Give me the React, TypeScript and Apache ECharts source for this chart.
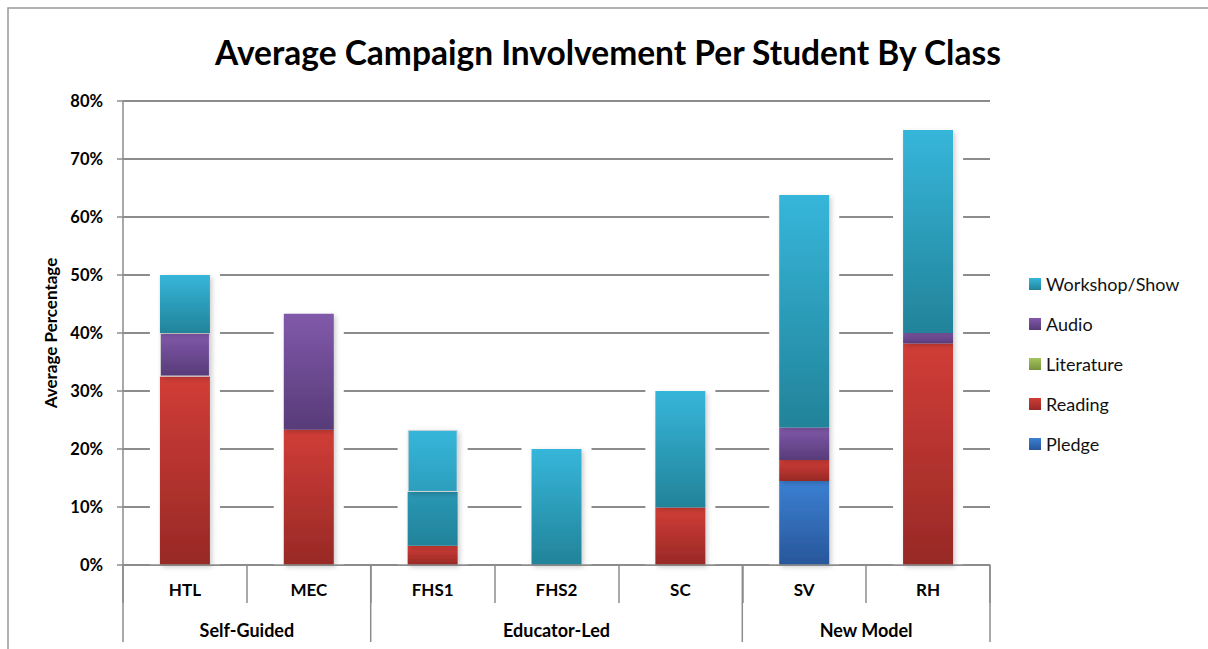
import React, { useEffect, useRef } from "react";
import * as echarts from "echarts";

const categories = ["HTL", "MEC", "FHS1", "FHS2", "SC", "SV", "RH"];
const groups = [
  { name: "Self-Guided", start: 0, end: 2 },
  { name: "Educator-Led", start: 2, end: 5 },
  { name: "New Model", start: 5, end: 7 },
];
const pledge = [0, 0, 0, 0, 0, 14.5, 0];
const reading = [32.5, 23.3, 3.3, 0, 9.9, 3.6, 38.2];
const literature = [0, 0, 0, 0, 0, 0, 0];
const audio = [7.5, 20.0, 0, 0, 0, 5.6, 1.8];
const workshopShow = [10.0, 0, 9.3, 20.0, 20.1, 40.1, 35.0];
const workshopShowUpper = [0, 0, 10.7, 0, 0, 0, 0];
const legendOrder = ["Workshop/Show", "Audio", "Literature", "Reading", "Pledge"];

const FONT = "Lato, 'Open Sans', sans-serif";

const grad = (top: string, bottom: string) =>
  new echarts.graphic.LinearGradient(0, 0, 0, 1, [
    { offset: 0, color: top },
    { offset: 1, color: bottom },
  ]);

const COLORS: Record<string, [string, string]> = {
  Pledge: ["#3b80d2", "#28569a"],
  Reading: ["#d13d37", "#972926"],
  Literature: ["#a3c45e", "#76923c"],
  Audio: ["#8159aa", "#573b78"],
  "Workshop/Show": ["#36b6da", "#228399"],
};

export default function App() {
  const ref = useRef<HTMLDivElement>(null);
  useEffect(() => {
    if (!ref.current) return;
    const chart = echarts.init(ref.current, undefined, { renderer: "svg" });
    const shadow = {
      shadowBlur: 5,
      shadowColor: "rgba(0,0,0,0.2)",
      shadowOffsetX: 2,
      shadowOffsetY: 2,
    };
    const mk = (
      name: string,
      data: number[],
      colors: [string, string] = COLORS[name],
      itemFn?: (v: number, i: number) => any
    ) => ({
      name,
      type: "bar",
      stack: "total",
      xAxisIndex: 0,
      yAxisIndex: 0,
      barWidth: 50,
      z: 3,
      data: data.map((v, i) => {
        if (v === 0) return null;
        const extra = itemFn ? itemFn(v, i) : null;
        return extra ? { value: v, itemStyle: extra } : v;
      }),
      itemStyle: {
        color: grad(colors[0], colors[1]),
        ...shadow,
      },
    });
    const totals = categories.map(
      (_, i) =>
        pledge[i] + reading[i] + literature[i] + audio[i] + workshopShow[i] + workshopShowUpper[i]
    );
    const axisGray = "#8c8c8c";
    chart.setOption({
      animation: false,
      backgroundColor: "#ffffff",
      textStyle: { fontFamily: FONT },
      grid: { left: 123, right: 218, top: 101, bottom: 84 },
      legend: {
        data: legendOrder,
        orient: "vertical",
        left: 1029,
        top: 274,
        padding: 0,
        itemWidth: 12,
        itemHeight: 12,
        itemGap: 20,
        icon: "rect",
        selectedMode: false,
        textStyle: { fontFamily: FONT, fontSize: 18, color: "#111", lineHeight: 20 },
      },
      xAxis: [
        {
          type: "category",
          data: categories,
          boundaryGap: true,
          axisLine: { show: true, lineStyle: { color: axisGray, width: 1.5 } },
          axisTick: { show: true, interval: 0, length: 38, lineStyle: { color: axisGray, width: 1.5 } },
          axisLabel: {
            interval: 0,
            margin: 16,
            fontFamily: FONT,
            fontWeight: "bold",
            fontSize: 17,
            color: "#000",
          },
          splitLine: { show: false },
          z: 4,
        },
        {
          type: "category",
          data: categories,
          boundaryGap: true,
          show: false,
        },
      ],
      yAxis: {
        type: "value",
        min: 0,
        max: 80,
        interval: 10,
        name: "Average Percentage",
        nameLocation: "middle",
        nameGap: 64,
        nameTextStyle: { fontFamily: FONT, fontWeight: "bold", fontSize: 17, color: "#000" },
        axisLine: { show: true, lineStyle: { color: axisGray, width: 1.5 } },
        axisTick: { show: true, length: 6, lineStyle: { color: axisGray, width: 1.5 } },
        axisLabel: {
          formatter: "{value}%",
          margin: 20,
          fontFamily: FONT,
          fontWeight: "bold",
          fontSize: 16.5,
          color: "#000",
        },
        splitLine: { show: true, lineStyle: { color: axisGray, width: 1.8 } },
      },
      series: [
        {
          name: "backdrop",
          type: "bar",
          xAxisIndex: 1,
          yAxisIndex: 0,
          barWidth: 70,
          silent: true,
          z: 1,
          data: totals.map((t) => t + 1.2),
          itemStyle: { color: "#ffffff" },
        },
        mk("Pledge", pledge),
        mk("Reading", reading),
        mk("Literature", literature),
        mk("Audio", audio, COLORS.Audio, (_v, i) =>
          reading[i] > 0 && i === 0
            ? { borderColor: "rgba(215,215,215,0.95)", borderWidth: 1 }
            : null
        ),
        mk("Workshop/Show", workshopShow, COLORS["Workshop/Show"], (_v, i) =>
          workshopShowUpper[i] > 0 ? { color: grad("#2a97b5", "#228399") } : null
        ),
        mk("Workshop/Show", workshopShowUpper, ["#36b6da", "#2c9ebd"], () => ({
          borderColor: "rgba(215,215,215,0.95)",
          borderWidth: 1,
        })),
      ],
    });

    const x0 = chart.convertToPixel({ xAxisIndex: 0 }, 0) as number;
    const x1 = chart.convertToPixel({ xAxisIndex: 0 }, 1) as number;
    const bw = x1 - x0;
    const yBase = chart.convertToPixel({ yAxisIndex: 0 }, 0) as number;
    const boundary = (i: number) => x0 + (i - 0.5) * bw;
    const graphics: any[] = [
      {
        type: "polyline",
        silent: true,
        shape: { points: [[8, 649], [8, 8], [1208, 8]] },
        style: { stroke: "#9a9a9a", lineWidth: 1.5, fill: null },
      },
      {
        type: "text",
        x: 608,
        y: 52,
        style: {
          text: "Average Campaign Involvement Per Student By Class",
          fontFamily: FONT,
          fontWeight: "bold",
          fontSize: 33.5,
          fill: "#000",
          align: "center",
          verticalAlign: "middle",
        },
      },
    ];
    const bounds = new Set<number>();
    groups.forEach((g) => {
      bounds.add(g.start);
      bounds.add(g.end);
      graphics.push({
        type: "text",
        x: (boundary(g.start) + boundary(g.end)) / 2,
        y: yBase + 65,
        style: {
          text: g.name,
          fontFamily: FONT,
          fontWeight: "bold",
          fontSize: 18,
          fill: "#000",
          align: "center",
          verticalAlign: "middle",
        },
      });
    });
    bounds.forEach((b) => {
      graphics.push({
        type: "line",
        silent: true,
        shape: { x1: boundary(b), y1: yBase, x2: boundary(b), y2: yBase + 77 },
        style: { stroke: axisGray, lineWidth: 1.5 },
      });
    });
    chart.setOption({ graphic: graphics });

    return () => chart.dispose();
  }, []);
  return (
    <div
      ref={ref}
      style={{ position: "absolute", left: 0, top: 0, width: 1208, height: 649 }}
    />
  );
}
